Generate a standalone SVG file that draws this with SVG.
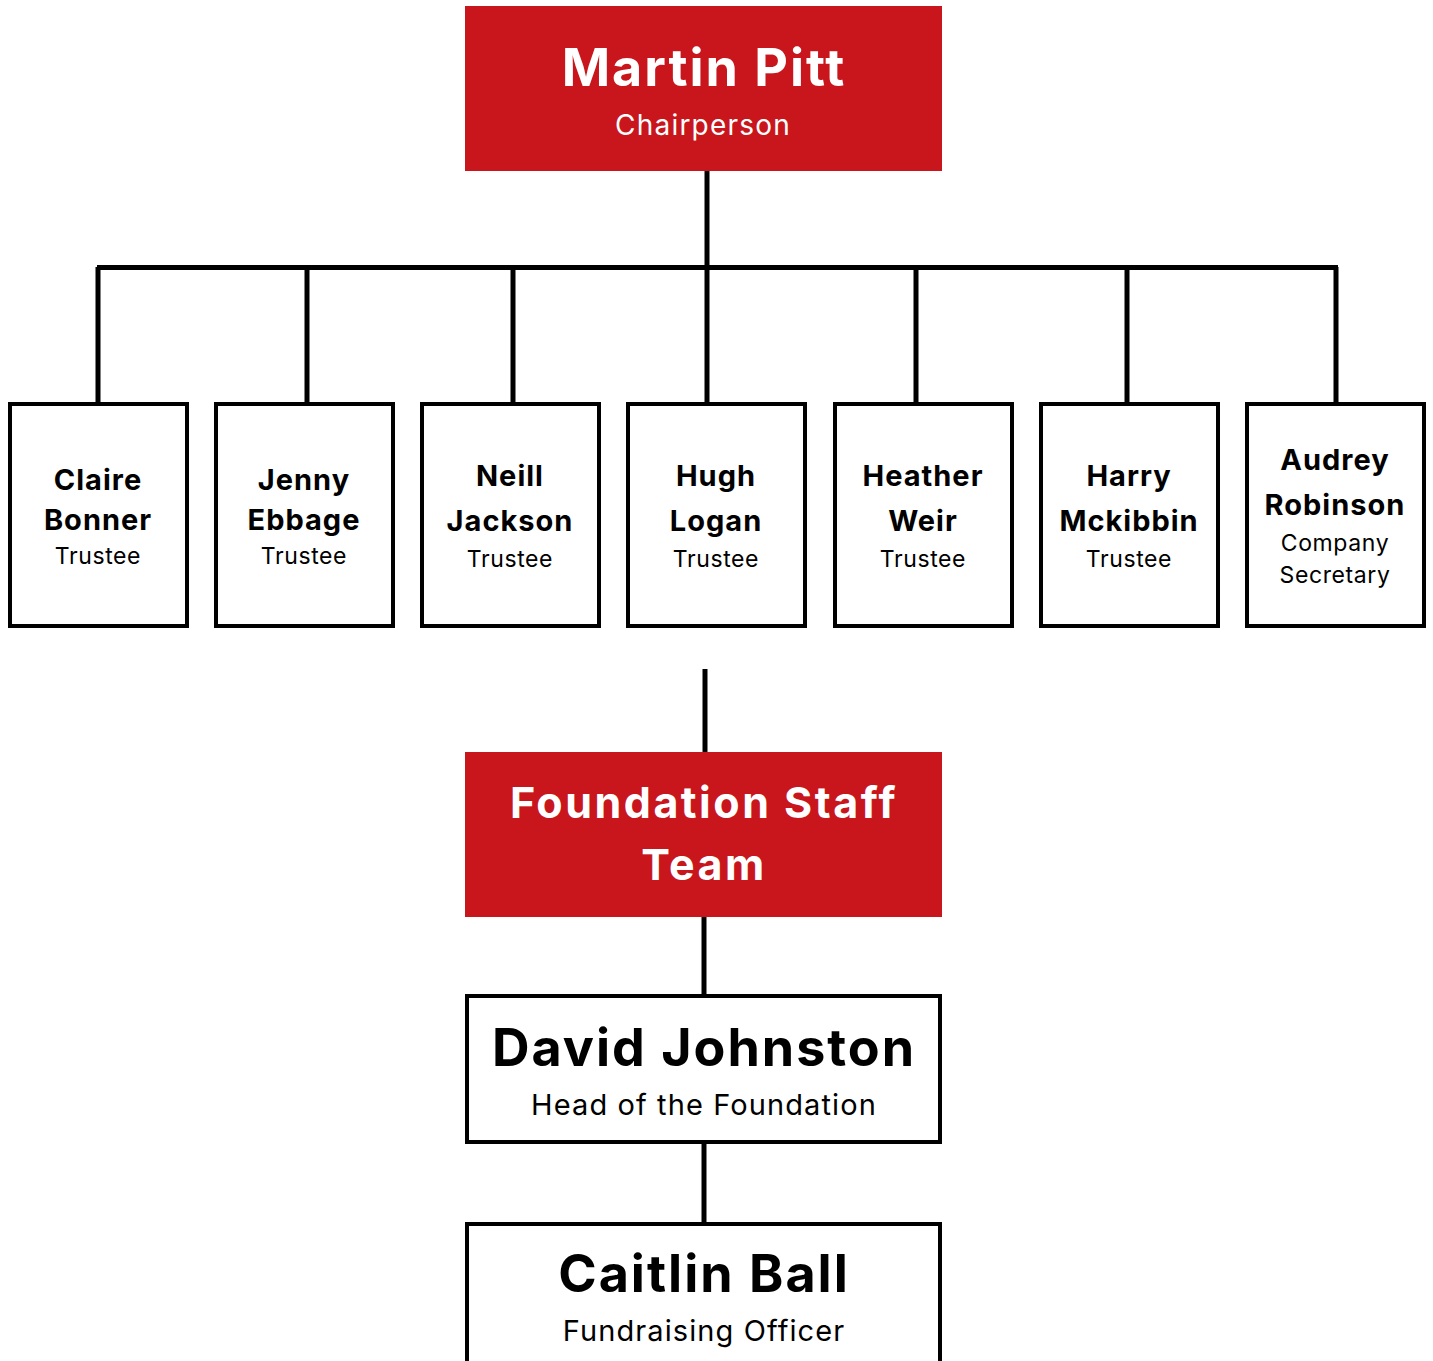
<svg xmlns="http://www.w3.org/2000/svg" width="1433" height="1361" viewBox="0 0 1433 1361">
<style>
.red{fill:#C8161C}
.box{fill:#fff;stroke:#000;stroke-width:4}
.ln{stroke:#000;stroke-width:5;fill:none}
text{font-family:Inter,"Liberation Sans",sans-serif;text-anchor:middle}
.big{font-weight:700;font-size:52px;letter-spacing:2px}
.bigw{font-weight:700;font-size:52px;fill:#fff;letter-spacing:2px}
.subw{font-weight:400;font-size:28px;fill:#fff;letter-spacing:1.2px}
.sub{font-weight:400;font-size:29px;fill:#000;letter-spacing:1.1px}
.nm{font-weight:700;font-size:29px;fill:#000;letter-spacing:1px}
.tr{font-weight:400;font-size:23px;fill:#000;letter-spacing:0.6px}
.fs{font-weight:700;font-size:43px;fill:#fff;letter-spacing:2.5px}
</style>
<g id="connectors">
<line class="ln" x1="707" y1="171" x2="707" y2="267"/>
<line class="ln" x1="97" y1="267.5" x2="1338" y2="267.5"/>
<line class="ln" x1="98" y1="267" x2="98" y2="404"/>
<line class="ln" x1="307" y1="267" x2="307" y2="404"/>
<line class="ln" x1="513" y1="267" x2="513" y2="404"/>
<line class="ln" x1="707" y1="267" x2="707" y2="404"/>
<line class="ln" x1="916" y1="267" x2="916" y2="404"/>
<line class="ln" x1="1127" y1="267" x2="1127" y2="404"/>
<line class="ln" x1="1336" y1="267" x2="1336" y2="404"/>
<line class="ln" x1="705" y1="669" x2="705" y2="752"/>
<line class="ln" x1="704" y1="917" x2="704" y2="996"/>
<line class="ln" x1="704" y1="1142" x2="704" y2="1224"/>
</g>
<g id="chair">
<rect class="red" x="465" y="6" width="477" height="165"/>
<text class="bigw" x="704" y="86">Martin Pitt</text>
<text class="subw" x="703" y="135">Chairperson</text>
</g>
<g id="claire">
<rect class="box" x="10" y="404" width="177" height="222"/>
<text class="nm" x="98" y="490">Claire</text>
<text class="nm" x="98" y="530">Bonner</text>
<text class="tr" x="98" y="564">Trustee</text>
</g>
<g id="jenny">
<rect class="box" x="216" y="404" width="177" height="222"/>
<text class="nm" x="304" y="490">Jenny</text>
<text class="nm" x="304" y="530">Ebbage</text>
<text class="tr" x="304" y="564">Trustee</text>
</g>
<g id="neill">
<rect class="box" x="422" y="404" width="177" height="222"/>
<text class="nm" x="510" y="486">Neill</text>
<text class="nm" x="510" y="531">Jackson</text>
<text class="tr" x="510" y="567">Trustee</text>
</g>
<g id="hugh">
<rect class="box" x="628" y="404" width="177" height="222"/>
<text class="nm" x="716" y="486">Hugh</text>
<text class="nm" x="716" y="531">Logan</text>
<text class="tr" x="716" y="567">Trustee</text>
</g>
<g id="heather">
<rect class="box" x="835" y="404" width="177" height="222"/>
<text class="nm" x="923" y="486">Heather</text>
<text class="nm" x="923" y="531">Weir</text>
<text class="tr" x="923" y="567">Trustee</text>
</g>
<g id="harry">
<rect class="box" x="1041" y="404" width="177" height="222"/>
<text class="nm" x="1129" y="486">Harry</text>
<text class="nm" x="1129" y="531">Mckibbin</text>
<text class="tr" x="1129" y="567">Trustee</text>
</g>
<g id="audrey">
<rect class="box" x="1247" y="404" width="177" height="222"/>
<text class="nm" x="1335" y="470">Audrey</text>
<text class="nm" x="1335" y="515">Robinson</text>
<text class="tr" x="1335" y="551">Company</text>
<text class="tr" x="1335" y="583">Secretary</text>
</g>
<g id="staff">
<rect class="red" x="465" y="752" width="477" height="165"/>
<text class="fs" x="704" y="818">Foundation Staff</text>
<text class="fs" x="704" y="880">Team</text>
</g>
<g id="david">
<rect class="box" x="467" y="996" width="473" height="146"/>
<text class="big" x="704" y="1066">David Johnston</text>
<text class="sub" x="704" y="1115">Head of the Foundation</text>
</g>
<g id="caitlin">
<rect class="box" x="467" y="1224" width="473" height="150"/>
<text class="big" x="704" y="1292">Caitlin Ball</text>
<text class="sub" x="704" y="1341">Fundraising Officer</text>
</g>
</svg>
